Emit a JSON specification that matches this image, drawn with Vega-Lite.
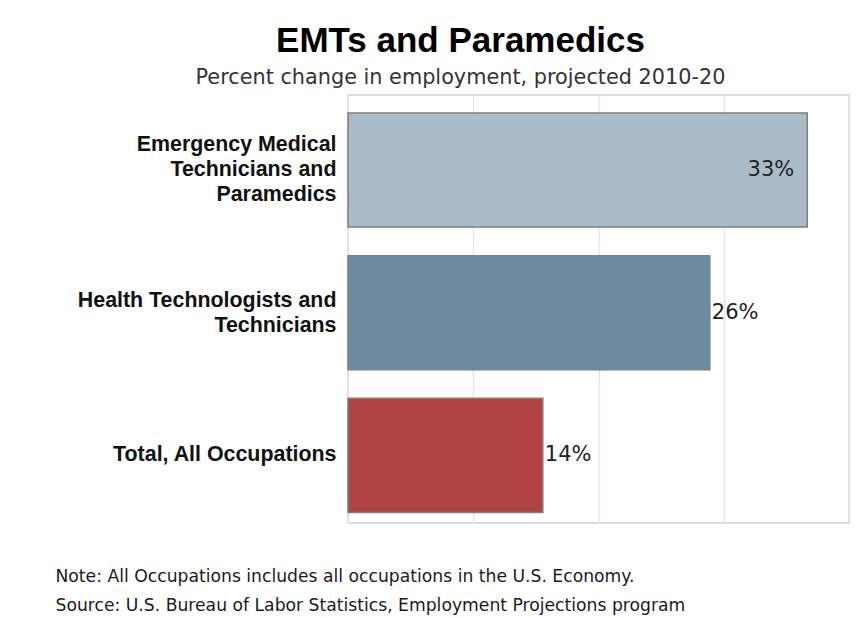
{
  "$schema": "https://vega.github.io/schema/vega-lite/v6.json",
  "autosize": {"type": "none"},
  "width": 501,
  "height": 428,
  "padding": {"left": 348, "top": 95, "right": 15, "bottom": 95},
  "background": "white",
  "title": {
    "text": "EMTs and Paramedics",
    "subtitle": "Percent change in employment, projected 2010-20",
    "anchor": "middle",
    "dx": -138,
    "offset": 7,
    "font": "Liberation Sans",
    "fontSize": 35,
    "fontWeight": "bold",
    "color": "#000000",
    "subtitleFont": "DejaVu Sans",
    "subtitleFontSize": 20.8,
    "subtitleColor": "#333333",
    "subtitlePadding": 9
  },
  "data": {
    "values": [
      {"occupation": "Emergency Medical Technicians and Paramedics", "change": 33},
      {"occupation": "Health Technologists and Technicians", "change": 26},
      {"occupation": "Total, All Occupations", "change": 14}
    ]
  },
  "transform": [{"calculate": "datum.change + '%'", "as": "label"}],
  "encoding": {
    "y": {
      "field": "occupation",
      "type": "nominal",
      "sort": null,
      "scale": {"paddingInner": 0.2, "paddingOuter": 0.1, "align": 0.63},
      "axis": {
        "title": null,
        "ticks": false,
        "domain": false,
        "labelPadding": 12,
        "labelFont": "Liberation Sans",
        "labelFontSize": 21.4,
        "labelFontWeight": "bold",
        "labelColor": "#111111",
        "labelLineHeight": 25,
        "labelLimit": 340,
        "labelOffset": {
          "condition": [
            {"test": "datum.value == 'Emergency Medical Technicians and Paramedics'", "value": -25},
            {"test": "datum.value == 'Health Technologists and Technicians'", "value": -12}
          ],
          "value": 0
        },
        "labelExpr": "datum.value == 'Emergency Medical Technicians and Paramedics' ? ['Emergency Medical', 'Technicians and', 'Paramedics'] : datum.value == 'Health Technologists and Technicians' ? ['Health Technologists and', 'Technicians'] : datum.value"
      }
    },
    "x": {
      "field": "change",
      "type": "quantitative",
      "scale": {"domain": [0, 36], "nice": false},
      "axis": {
        "values": [0, 9, 18, 27, 36],
        "labels": false,
        "ticks": false,
        "domain": false,
        "grid": true,
        "gridColor": "#e6e6e6",
        "gridWidth": 1.5,
        "title": ["Note: All Occupations includes all occupations in the U.S. Economy.", "Source: U.S. Bureau of Labor Statistics, Employment Projections program"],
        "titleAnchor": "start",
        "titleAlign": "left",
        "titleBaseline": "top",
        "titleX": -293,
        "titleY": 44,
        "titleFont": "DejaVu Sans",
        "titleFontSize": 17.2,
        "titleFontWeight": "normal",
        "titleColor": "#1a1a1a",
        "titleLineHeight": 29
      }
    }
  },
  "layer": [
    {
      "mark": {"type": "bar", "stroke": "#808080", "strokeWidth": 1.5},
      "encoding": {
        "color": {
          "field": "occupation",
          "type": "nominal",
          "legend": null,
          "scale": {
            "domain": ["Emergency Medical Technicians and Paramedics", "Health Technologists and Technicians", "Total, All Occupations"],
            "range": ["#abbbc7", "#6f8ba1", "#b04241"]
          }
        }
      }
    },
    {
      "transform": [{"filter": "datum.change >= 30"}],
      "mark": {"type": "text", "align": "right", "baseline": "middle", "dx": -13, "font": "DejaVu Sans", "fontSize": 21, "color": "#222222"},
      "encoding": {"text": {"field": "label", "type": "nominal"}}
    },
    {
      "transform": [{"filter": "datum.change < 30"}],
      "mark": {"type": "text", "align": "left", "baseline": "middle", "dx": 2, "font": "DejaVu Sans", "fontSize": 21, "color": "#222222"},
      "encoding": {"text": {"field": "label", "type": "nominal"}}
    }
  ],
  "config": {
    "view": {"stroke": "#dcdcdc", "strokeWidth": 2}
  }
}
